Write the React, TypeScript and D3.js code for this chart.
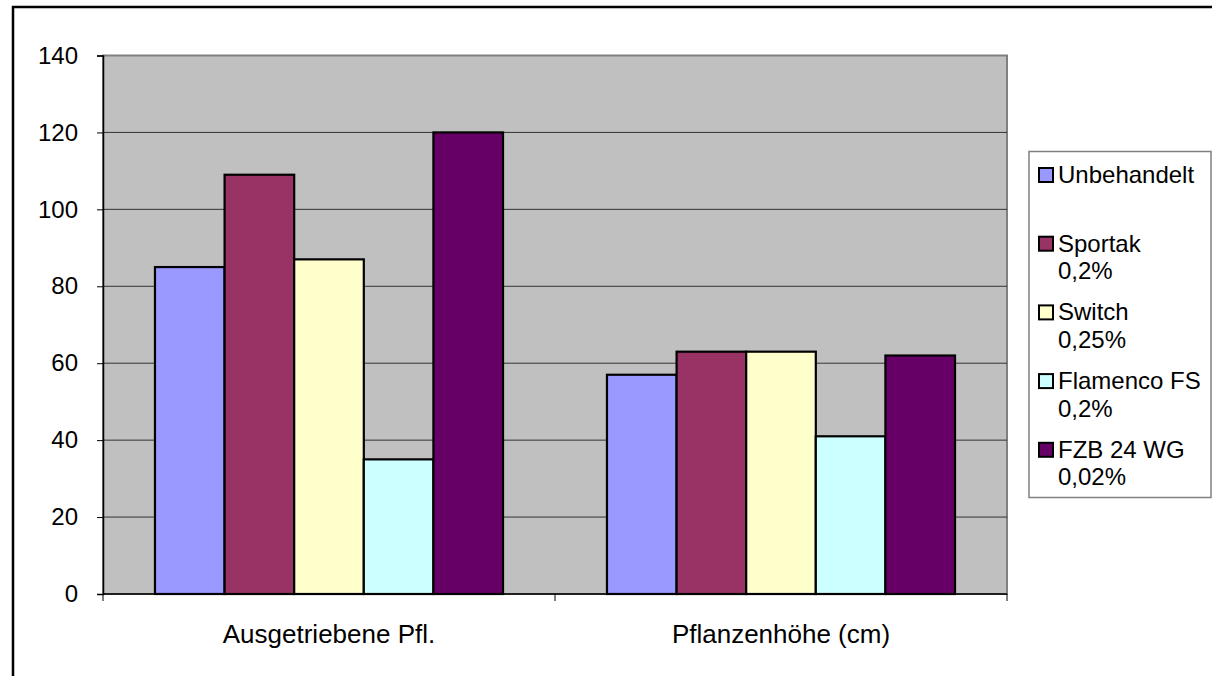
import { useEffect, useRef } from "react";
import * as d3 from "d3";

const categories = ["Ausgetriebene Pfl.", "Pflanzenhöhe (cm)"];
const seriesNames = [
    ["Unbehandelt", ""],
    ["Sportak", "0,2%"],
    ["Switch", "0,25%"],
    ["Flamenco FS", "0,2%"],
    ["FZB 24 WG", "0,02%"],
];
const seriesColors = ["#9999FF", "#993366", "#FFFFCC", "#CCFFFF", "#660066"];
// one array per series: [Ausgetriebene Pfl., Pflanzenhöhe (cm)]
const unbehandelt = [85, 57];
const sportak = [109, 63];
const switchValues = [87, 63];
const flamenco = [35, 41];
const fzb = [120, 62];
const yTicks = [0, 20, 40, 60, 80, 100, 120, 140];

const seriesValues = [unbehandelt, sportak, switchValues, flamenco, fzb];

const FONT = "'Liberation Sans', Arial, sans-serif";

const App = () => {
    const chartRef = useRef<SVGSVGElement | null>(null);

    useEffect(() => {
        if (!chartRef.current) return;
        const svg = d3.select(chartRef.current);
        svg.selectAll("*").remove();

        const width = 1212;
        const height = 676;
        const plot = { left: 103, right: 1007, top: 55.5, bottom: 594 };

        // outer chart frame (runs off the right and bottom edge)
        svg.append("rect")
            .attr("x", 13)
            .attr("y", 7)
            .attr("width", width + 20)
            .attr("height", height + 20)
            .attr("fill", "#fff")
            .attr("stroke", "#000")
            .attr("stroke-width", 2.5);

        const x0 = d3
            .scaleBand()
            .domain(categories)
            .range([plot.left, plot.right])
            .paddingInner(0.23)
            .paddingOuter(0.115);

        const x1 = d3
            .scaleBand()
            .domain(seriesNames.map((s) => s[0]))
            .range([0, x0.bandwidth()]);

        const y = d3.scaleLinear().domain([0, 140]).range([plot.bottom, plot.top]);

        // plot area
        svg.append("rect")
            .attr("x", plot.left)
            .attr("y", plot.top)
            .attr("width", plot.right - plot.left)
            .attr("height", plot.bottom - plot.top)
            .attr("fill", "#C0C0C0")
            .attr("stroke", "#808080")
            .attr("stroke-width", 2);

        // gridlines
        svg.append("g")
            .selectAll("line")
            .data(yTicks.filter((t) => t > 0 && t < 140))
            .enter()
            .append("line")
            .attr("x1", plot.left)
            .attr("x2", plot.right)
            .attr("y1", (d) => y(d))
            .attr("y2", (d) => y(d))
            .attr("stroke", "#333")
            .attr("stroke-width", 1);

        // bars
        const groups = svg
            .append("g")
            .selectAll("g")
            .data(categories)
            .enter()
            .append("g")
            .attr("transform", (c) => `translate(${x0(c)},0)`);

        groups
            .selectAll("rect")
            .data((_, ci) => seriesValues.map((vals, si) => ({ si, v: vals[ci] })))
            .enter()
            .append("rect")
            .attr("x", (d) => x1(seriesNames[d.si][0])!)
            .attr("y", (d) => y(d.v))
            .attr("width", x1.bandwidth())
            .attr("height", (d) => y(0) - y(d.v))
            .attr("fill", (d) => seriesColors[d.si])
            .attr("stroke", "#000")
            .attr("stroke-width", 2.2);

        // y axis
        const yAxis = svg
            .append("g")
            .attr("transform", `translate(${plot.left},0)`)
            .call(d3.axisLeft(y).tickValues(yTicks).tickSize(6).tickPadding(19));
        yAxis.select(".domain").attr("stroke", "#000").attr("stroke-width", 1.5);
        yAxis.selectAll(".tick line").attr("stroke", "#000");
        yAxis
            .selectAll("text")
            .attr("font-family", FONT)
            .attr("font-size", 24)
            .attr("fill", "#000");

        // x axis
        const xAxis = svg
            .append("g")
            .attr("transform", `translate(0,${plot.bottom})`)
            .call(d3.axisBottom(x0).tickSize(0).tickPadding(0));
        xAxis.select(".domain").remove();
        xAxis.selectAll("text").remove();
        xAxis
            .append("line")
            .attr("x1", plot.left)
            .attr("x2", plot.right)
            .attr("stroke", "#000")
            .attr("stroke-width", 1.5);
        const boundaries = [plot.left, ...categories.map((c) => x0(c)! + x0.bandwidth() + (x0.step() - x0.bandwidth()) / 2)];
        xAxis
            .selectAll(".sep")
            .data(boundaries)
            .enter()
            .append("line")
            .attr("x1", (d) => d)
            .attr("x2", (d) => d)
            .attr("y1", 0)
            .attr("y2", 7)
            .attr("stroke", "#000");
        xAxis
            .selectAll(".cat")
            .data(categories)
            .enter()
            .append("text")
            .attr("x", (c) => x0(c)! + x0.bandwidth() / 2)
            .attr("y", 49)
            .attr("text-anchor", "middle")
            .attr("font-family", FONT)
            .attr("font-size", 26)
            .attr("fill", "#000")
            .text((c) => c);

        // legend
        const legend = svg.append("g");
        legend
            .append("rect")
            .attr("x", 1029)
            .attr("y", 151.5)
            .attr("width", 182)
            .attr("height", 346)
            .attr("fill", "#fff")
            .attr("stroke", "#808080")
            .attr("stroke-width", 1.5);

        const entry = legend
            .selectAll(".entry")
            .data(seriesNames)
            .enter()
            .append("g")
            .attr("transform", (_, i) => `translate(1038,${167 + i * 68.7})`);
        entry
            .append("rect")
            .attr("x", 1)
            .attr("y", 1)
            .attr("width", 14)
            .attr("height", 14)
            .attr("fill", (_, i) => seriesColors[i])
            .attr("stroke", "#000")
            .attr("stroke-width", 2);
        entry
            .append("text")
            .attr("x", 20)
            .attr("y", 16)
            .attr("font-family", FONT)
            .attr("font-size", 24)
            .attr("fill", "#000")
            .text((d) => d[0]);
        entry
            .append("text")
            .attr("x", 20)
            .attr("y", 43.5)
            .attr("font-family", FONT)
            .attr("font-size", 24)
            .attr("fill", "#000")
            .text((d) => d[1]);
    }, []);

    return (
        <svg
            ref={chartRef}
            width={1212}
            height={676}
            style={{ position: "absolute", left: 0, top: 0 }}
        ></svg>
    );
};

export default App;
